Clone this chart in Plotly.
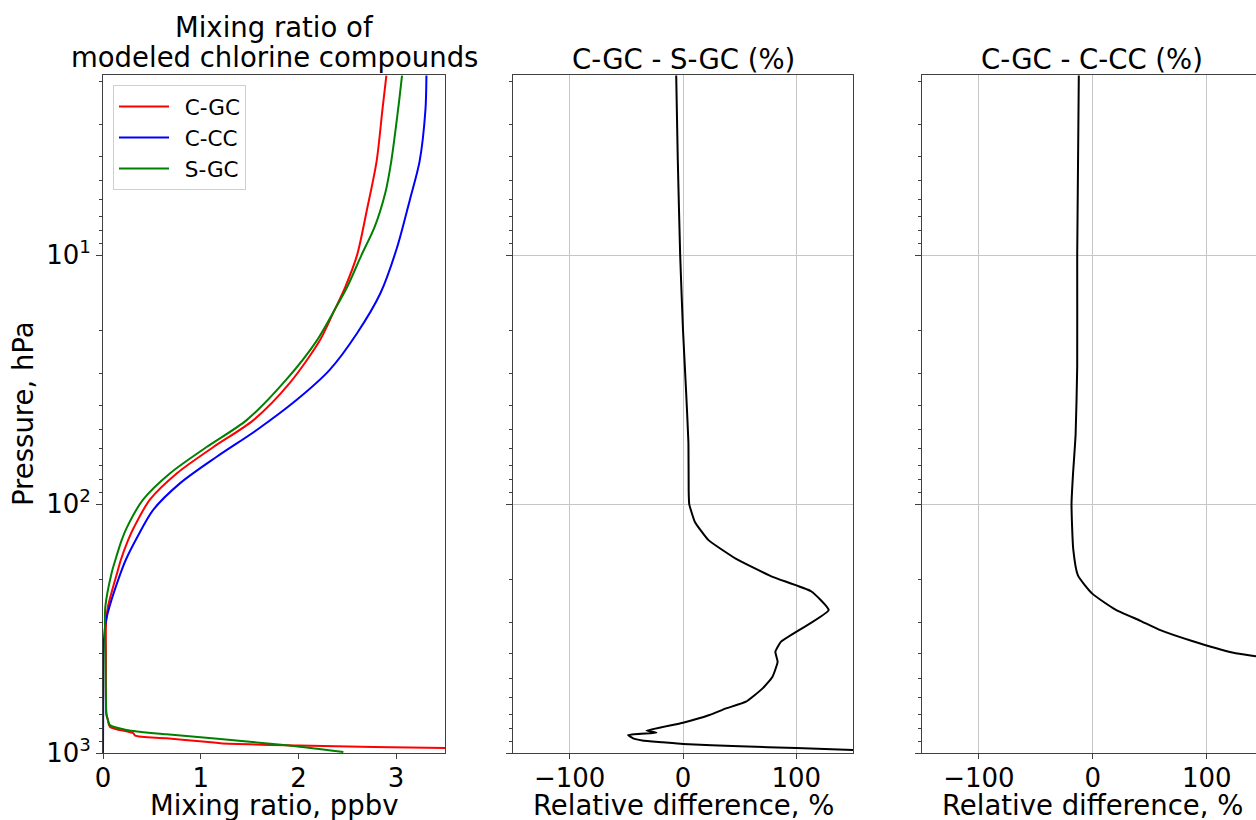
import math
import plotly.graph_objects as go

# ---------------- data ----------------
# Panel 1: mixing ratio (ppbv) vs pressure (hPa)
p_cgc = [1.9, 2.6, 4.2, 6.6, 10, 13.4, 16.6, 22, 32.7, 46, 59, 75, 96, 124, 140, 167, 190,
         258, 300, 400, 500, 600, 700, 736, 784, 833, 852, 873, 901, 914, 933, 955, 965]
v_cgc = [2.90, 2.86, 2.80, 2.70, 2.60, 2.48, 2.37, 2.22, 1.91, 1.54, 1.13, 0.76, 0.48, 0.317,
         0.256, 0.184, 0.143, 0.051, 0.031, 0.03, 0.03, 0.03, 0.035, 0.05, 0.07, 0.31, 0.33, 0.65,
         1.05, 1.20, 2.0, 3.5, 4.6]

p_ccc = [1.9, 2.6, 4.2, 6.0, 9.3, 14.2, 20.6, 28.9, 38.2, 50.5, 64.7, 82.4, 106, 136, 167, 190,
         258, 300, 350, 400, 600, 800, 1000]
v_ccc = [3.31, 3.30, 3.24, 3.14, 3.01, 2.84, 2.60, 2.32, 1.98, 1.57, 1.16, 0.79, 0.51, 0.35,
         0.235, 0.179, 0.067, 0.026, 0.01, 0.004, 0.002, 0.001, 0.0]

p_sgc = [1.9, 2.6, 4.2, 5.6, 7.7, 10, 13.4, 16.6, 22, 31.5, 46, 59, 75, 96, 124, 140, 167, 190,
         258, 300, 400, 500, 600, 700, 736, 772, 808, 841, 879, 929, 991]
v_sgc = [3.06, 3.02, 2.95, 2.89, 2.78, 2.645, 2.50, 2.37, 2.19, 1.88, 1.47, 1.06, 0.69, 0.41,
         0.245, 0.19, 0.128, 0.087, 0.024, 0.02, 0.024, 0.027, 0.03, 0.035, 0.05, 0.07, 0.24,
         0.65, 1.20, 1.85, 2.46]

# Panel 2: C-GC - S-GC (%)
p_d1 = [1.9, 4.15, 10, 20, 35.8, 56.9, 88, 100, 118, 139.6, 165.5, 196, 224, 266.6, 357, 392, 430,
        494, 550, 622, 662, 704, 756, 813, 829, 847, 873, 890, 905, 920, 940, 955, 972, 985]
d1 = [-6.0, -4.6, -2.5, 0.0, 2.8, 4.8, 5.0, 5.5, 10.5, 22.5, 46.5, 79, 113, 128.5, 86.5, 81.5,
      83.5, 79, 70.3, 55.6, 38, 23.3, 0.0, -32.2, -23.4, -48.5, -44, -36, -18, 0.0, 50, 100, 150, 180]

# Panel 3: C-GC - C-CC (%)
p_d2 = [1.9, 10, 27.9, 52.4, 77.2, 100, 151.6, 193.3, 229, 264.7, 294.5, 321, 354, 395.5, 409, 425]
d2 = [-12.3, -13.7, -13.7, -15.1, -17.5, -18.7, -17.2, -13.1, -0.5, 19.5, 41.8, 59.3, 86.5,
      123.5, 143.3, 165]

series_names = ["C-GC", "C-CC", "S-GC"]
series_colors = ["#ff0000", "#0000ff", "#008000"]

x1_ticks = [0, 1, 2, 3]
x_rel_ticks = [-100, 0, 100]
x_rel_text = ["\u2212100", "0", "100"]
y_ticks = [10, 100, 1000]
y_text = ["10<sup>1</sup>", "10<sup>2</sup>", "10<sup>3</sup>"]
y_minor = [m * d for d in (1, 10, 100) for m in range(2, 10)]

# ---------------- layout geometry ----------------
W, H = 1256, 820
TOP, BOT = 75, 753
PH = BOT - TOP
FONT = "DejaVu Sans"
SPINE = "#404040"
GRID = "#c6c6c6"


def dom(a, b):
    return [a / W, min(b / W, 1.0)]


def py(yc):
    return (BOT - yc) / PH


fig = go.Figure()
for xs, ys, nm, col in [(v_cgc, p_cgc, series_names[0], series_colors[0]),
                        (v_ccc, p_ccc, series_names[1], series_colors[1]),
                        (v_sgc, p_sgc, series_names[2], series_colors[2])]:
    fig.add_trace(go.Scatter(x=xs, y=ys, mode="lines", name="\u2002" + nm, legendgroup=nm,
                             line=dict(color=col, width=2, shape="spline", smoothing=0.8),
                             xaxis="x", yaxis="y"))

fig.add_trace(go.Scatter(x=d1, y=p_d1, mode="lines", showlegend=False,
                         line=dict(color="black", width=2, shape="spline", smoothing=0.4),
                         xaxis="x2", yaxis="y2"))
fig.add_trace(go.Scatter(x=d2, y=p_d2, mode="lines", showlegend=False,
                         line=dict(color="black", width=2, shape="spline", smoothing=0.5),
                         xaxis="x3", yaxis="y3"))

tickfont = dict(family=FONT, size=26, color="black")
yrange = [3, math.log10(1.89)]


def xaxis(domain, rng, tv, tt, grid, anchor):
    return dict(domain=domain, range=rng, tickmode="array", tickvals=tv, ticktext=tt,
                ticks="outside", ticklen=5, tickwidth=1, tickcolor=SPINE,
                showline=True, linecolor=SPINE, linewidth=1, mirror=True,
                showgrid=grid, gridcolor=GRID, gridwidth=1, zeroline=False,
                tickfont=tickfont, anchor=anchor, fixedrange=True, automargin=False,
                ticklabelstandoff=-3)


def yaxis(anchor, labels, grid, mirror=True):
    return dict(type="log", range=yrange, domain=[0, 1], anchor=anchor,
                tickmode="array", tickvals=y_ticks, ticktext=y_text,
                showticklabels=labels, ticks="outside", ticklen=6, tickwidth=1,
                tickcolor=SPINE, showline=True, linecolor=SPINE, linewidth=1,
                mirror=mirror, showgrid=grid, gridcolor=GRID, gridwidth=1,
                zeroline=False, tickfont=tickfont, automargin=False,
                minor=dict(tickmode="array", tickvals=y_minor, ticks="outside",
                           ticklen=3, tickwidth=1, tickcolor=SPINE, showgrid=False))


x3_right = 143.3

fig.update_layout(
    width=W, height=H, autosize=False,
    margin=dict(l=0, r=0, t=TOP, b=H - BOT, pad=0),
    paper_bgcolor="white", plot_bgcolor="white",
    font=dict(family=FONT, size=26, color="black"),
    xaxis=xaxis(dom(103, 445), [0, 3.5], x1_ticks, [str(v) for v in x1_ticks], False, "y"),
    xaxis2=xaxis(dom(513, 853), [-150, 150], x_rel_ticks, x_rel_text, True, "y2"),
    xaxis3=xaxis(dom(922, 1256), [-150, x3_right], x_rel_ticks, x_rel_text, True, "y3"),
    yaxis=yaxis("x", True, False),
    yaxis2=yaxis("x2", False, True),
    yaxis3=yaxis("x3", False, True, mirror=False),
    legend=dict(x=113 / W, y=py(85), xanchor="left", yanchor="top",
                bgcolor="rgba(255,255,255,0.85)", bordercolor="#d0d0d0", borderwidth=1,
                font=dict(family=FONT, size=21.5, color="black"), itemwidth=50,
                tracegroupgap=3, traceorder="normal"),
    showlegend=True,
)

ann = []
tfont = dict(family=FONT, size=27.5, color="black")


def add_text(text, xc, yc, angle=0):
    ann.append(dict(text=text, x=xc / W, y=py(yc), xref="paper", yref="paper",
                    showarrow=False, xanchor="center", yanchor="middle", font=tfont,
                    textangle=angle))


add_text("Mixing ratio of", 274, 27)
add_text("modeled chlorine compounds", 274, 57)
add_text("C-GC - S-GC (%)", 683, 59)
add_text("C-GC - C-CC (%)", 1092, 59)
add_text("Mixing ratio, ppbv", 274, 805)
add_text("Relative difference, %", 683, 805)
add_text("Relative difference, %", 1092, 805)
add_text("Pressure, hPa", 23, 414, -90)
fig.update_layout(annotations=ann)

fig.write_html("out.html")
